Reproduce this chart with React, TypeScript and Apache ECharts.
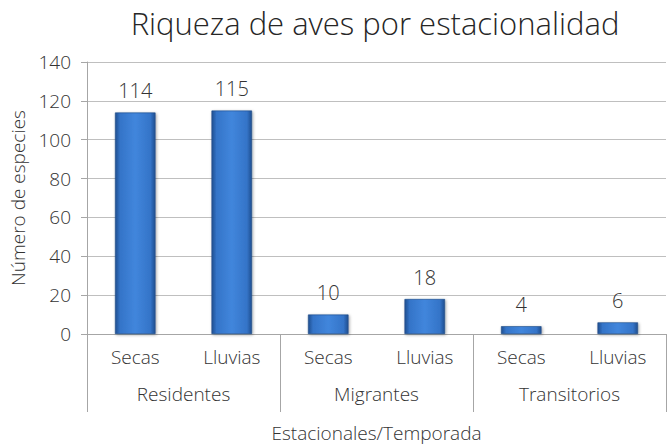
import React, { useEffect, useRef } from "react";
import * as echarts from "echarts";

const seasons = ["Secas", "Lluvias", "Secas", "Lluvias", "Secas", "Lluvias"];
const groups = ["Residentes", "Migrantes", "Transitorios"];
const speciesCounts = [114, 115, 10, 18, 4, 6];

const FONT = "'Open Sans', 'DejaVu Sans', sans-serif";
const TXT = "#333333";

export default function App() {
  const ref = useRef<HTMLDivElement>(null);
  useEffect(() => {
    if (!ref.current) return;
    const chart = echarts.init(ref.current, null, { renderer: "svg" });
    const barGradient = new echarts.graphic.LinearGradient(0, 0, 1, 0, [
      { offset: 0, color: "#1f4f90" },
      { offset: 0.12, color: "#3474c8" },
      { offset: 0.5, color: "#4186dc" },
      { offset: 0.88, color: "#3474c8" },
      { offset: 1, color: "#1f4f90" },
    ]);
    chart.setOption({
      animation: false,
      backgroundColor: "#ffffff",
      textStyle: { fontFamily: FONT, fontWeight: 300 },
      title: {
        text: "Riqueza de aves por estacionalidad",
        left: 370,
        top: 2,
        textAlign: "center",
        textStyle: { fontFamily: FONT, fontWeight: 300, fontSize: 31, color: "#262626" },
      },
      grid: { left: 87, right: 1, top: 62, bottom: 113, containLabel: false, outerBoundsMode: "none" },
      xAxis: [
        {
          type: "category",
          data: seasons,
          position: "bottom",
          axisLine: { show: true, lineStyle: { color: "#a6a6a6", width: 1 } },
          axisTick: { show: false },
          axisLabel: { margin: 13, fontSize: 19, color: TXT, fontFamily: FONT, fontWeight: 300 },
        },
        {
          type: "category",
          data: groups,
          position: "bottom",
          offset: 0,
          axisLine: { show: false },
          axisTick: { show: true, interval: 0, length: 78, lineStyle: { color: "#a6a6a6", width: 1 } },
          axisLabel: { margin: 50, fontSize: 19, color: TXT, fontFamily: FONT, fontWeight: 300 },
          name: "Estacionales/Temporada",
          nameLocation: "middle",
          nameGap: 89,
          nameTextStyle: { fontSize: 19, color: TXT, fontFamily: FONT, fontWeight: 300 },
        },
      ],
      yAxis: {
        type: "value",
        min: 0,
        max: 140,
        interval: 20,
        name: "Número de especies",
        nameLocation: "middle",
        nameGap: 60,
        nameTextStyle: { fontSize: 19, color: TXT, fontFamily: FONT, fontWeight: 300 },
        axisLine: { show: true, lineStyle: { color: "#a6a6a6", width: 1 } },
        axisTick: { show: true, length: 6, lineStyle: { color: "#a6a6a6" } },
        axisLabel: { margin: 16, fontSize: 19, color: TXT, fontFamily: FONT, fontWeight: 300 },
        splitLine: { show: true, lineStyle: { color: "#bfbfbf", width: 1 } },
      },
      series: [
        {
          type: "bar",
          xAxisIndex: 0,
          data: speciesCounts,
          barWidth: "42%",
          itemStyle: {
            color: barGradient,
            borderColor: "#1d4a87",
            borderWidth: 0.6,
            shadowColor: "rgba(0,0,0,0.35)",
            shadowBlur: 3,
            shadowOffsetX: 1,
            shadowOffsetY: 1,
          },
          label: {
            show: true,
            position: "top",
            distance: 12,
            fontSize: 20,
            color: TXT,
            fontFamily: FONT,
            fontWeight: 300,
          },
        },
      ],
    });
    return () => chart.dispose();
  }, []);
  return <div ref={ref} style={{ width: 667, height: 447, position: "absolute", left: 0, top: 0 }} />;
}
